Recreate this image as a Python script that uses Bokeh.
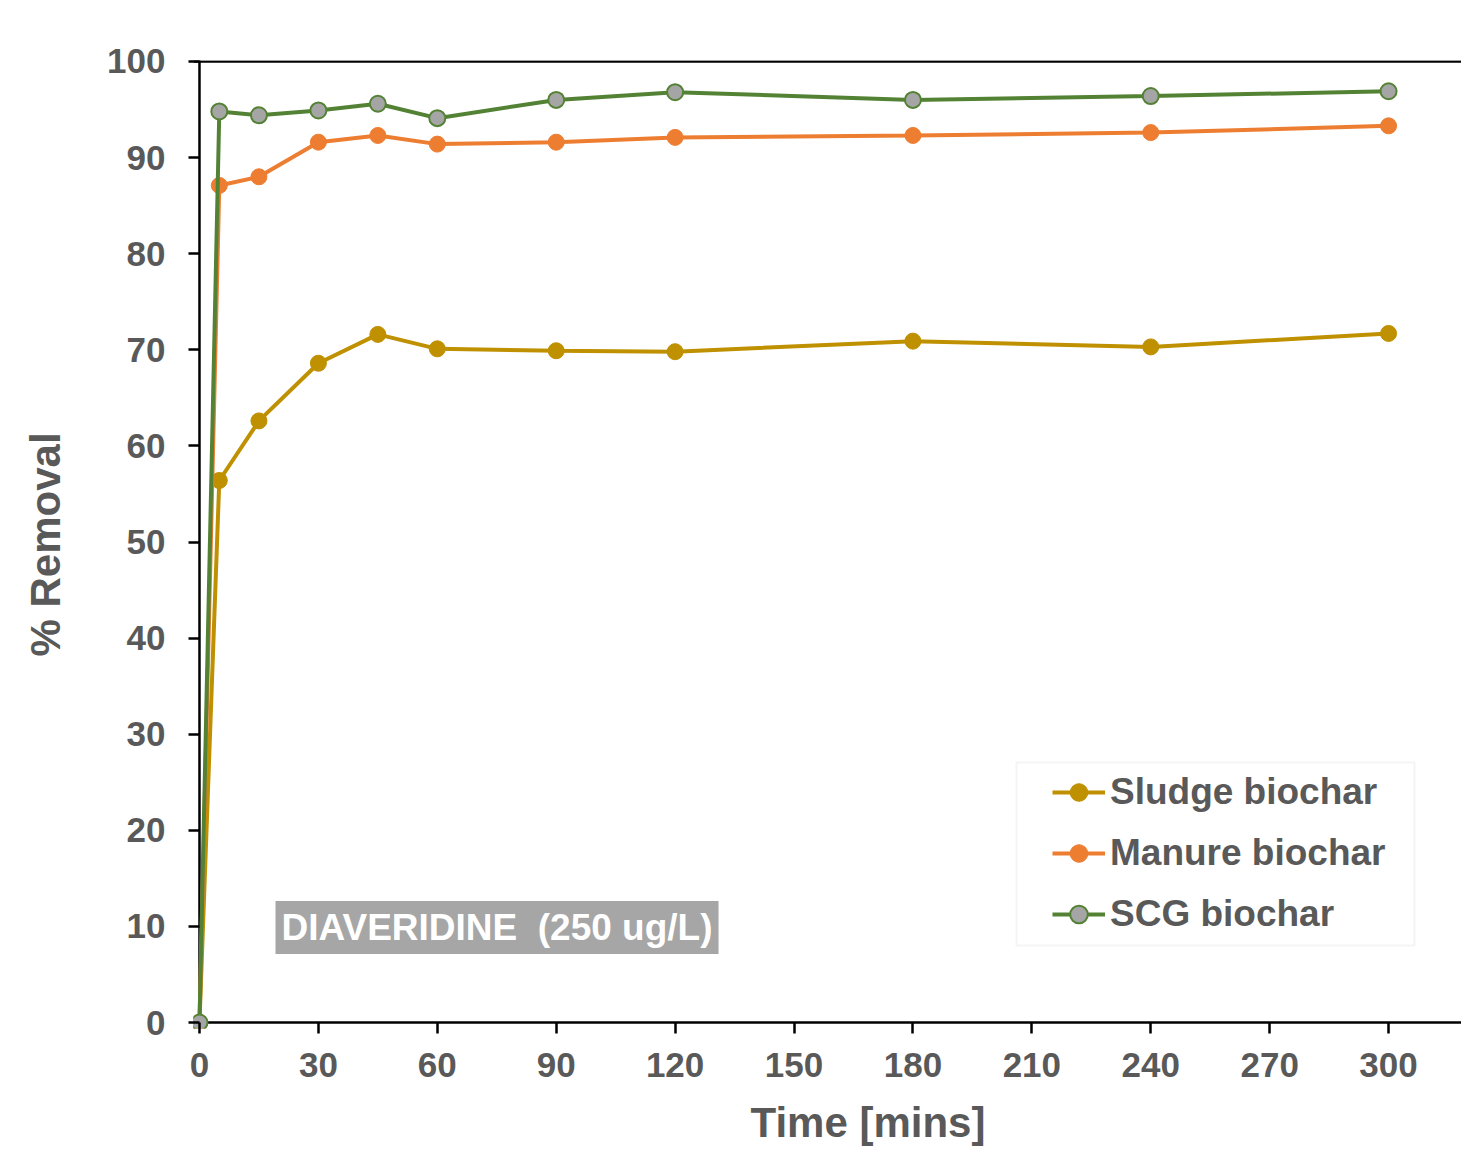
from bokeh.plotting import figure
from bokeh.models import (Span, Label, Legend, LegendItem, BoxAnnotation,
                          FixedTicker, Range1d, Title)
from bokeh.embed import file_html
from bokeh.resources import INLINE

# ---- data ----
time_min = [0, 5, 15, 30, 45, 60, 90, 120, 180, 240, 300]
sludge = [0, 56.4, 62.6, 68.6, 71.6, 70.1, 69.9, 69.8, 70.9, 70.3, 71.7]
manure = [0, 87.1, 88.0, 91.6, 92.3, 91.4, 91.6, 92.1, 92.3, 92.6, 93.3]
scg = [0, 94.8, 94.4, 94.9, 95.6, 94.1, 96.0, 96.8, 96.0, 96.4, 96.9]
series_names = ["Sludge biochar", "Manure biochar", "SCG biochar"]
x_ticks = list(range(0, 301, 30))
y_ticks = list(range(0, 101, 10))
annotation_text = "DIAVERIDINE\u00a0 (250 ug/L)"
x_title = "Time [mins]"
y_title = "% Removal"

FONT = "Liberation Sans"
GREY = "#595959"

p = figure(width=1461, height=1163, output_backend="svg", toolbar_location=None,
           x_range=Range1d(-1.51, 318.4), y_range=Range1d(-0.62, 100.1),
           min_border_left=193, min_border_right=0, min_border_top=60,
           min_border_bottom=135, background_fill_color="white")
p.outline_line_color = None
p.xgrid.visible = False
p.ygrid.visible = False

p.xaxis.ticker = FixedTicker(ticks=x_ticks)
p.yaxis.ticker = FixedTicker(ticks=y_ticks)
for ax in (p.xaxis[0], p.yaxis[0]):
    ax.axis_line_color = None
    ax.major_tick_line_color = "black"
    ax.major_tick_line_width = 2.5
    ax.major_tick_in = 6
    ax.major_tick_out = 5
    ax.minor_tick_line_color = None
    ax.major_label_text_font = FONT
    ax.major_label_text_font_style = "bold"
    ax.major_label_text_font_size = "35px"
    ax.major_label_text_color = GREY
p.xaxis.major_label_standoff = 19
p.yaxis.major_label_standoff = 23
p.yaxis.axis_label = y_title
p.yaxis.axis_label_text_font = FONT
p.yaxis.axis_label_text_font_style = "bold"
p.yaxis.axis_label_text_font_size = "42px"
p.yaxis.axis_label_text_color = GREY
p.yaxis.axis_label_standoff = 35

xt = Title(text=x_title, align="left", offset=557, text_font=FONT,
           text_font_size="42px", text_font_style="bold", text_color=GREY,
           standoff=35)
p.add_layout(xt, "below")

# axis lines drawn at data zero, plus top border
p.add_layout(Span(location=0, dimension="width", line_color="black",
                  line_width=2.5, level="underlay"))
p.add_layout(Span(location=0, dimension="height", line_color="black",
                  line_width=2.5, level="underlay"))
p.add_layout(Span(location=100, dimension="width", line_color="black",
                  line_width=2.5, level="underlay"))

r1 = p.line(time_min, sludge, line_color="#BF9000", line_width=4)
s1 = p.scatter(time_min, sludge, size=16, fill_color="#BF9000", line_color="#BF9000")
r2 = p.line(time_min, manure, line_color="#ED7D31", line_width=4)
s2 = p.scatter(time_min, manure, size=16, fill_color="#ED7D31", line_color="#ED7D31")
r3 = p.line(time_min, scg, line_color="#548235", line_width=4)
s3 = p.scatter(time_min, scg, size=16, fill_color="#A5A5A5", line_color="#548235",
               line_width=2)

box = BoxAnnotation(left=823, right=1221, bottom=83, top=266,
                    left_units="screen", right_units="screen",
                    bottom_units="screen", top_units="screen",
                    fill_color="white", fill_alpha=1.0,
                    line_color="#D9D9D9", line_width=2)
p.add_layout(box)

legend = Legend(items=[LegendItem(label=series_names[0], renderers=[r1, s1]),
                       LegendItem(label=series_names[1], renderers=[r2, s2]),
                       LegendItem(label=series_names[2], renderers=[r3, s3])],
                location=(859, 92), padding=0, margin=0, spacing=17,
                glyph_width=53, glyph_height=44, label_height=44,
                label_standoff=5, border_line_color=None,
                background_fill_alpha=0, label_text_font=FONT,
                label_text_font_size="37px", label_text_font_style="bold",
                label_text_color=GREY)
p.add_layout(legend)

lab = Label(x=82, y=101, x_units="screen", y_units="screen", text=annotation_text,
            text_color="white", text_font=FONT, text_font_size="37px",
            text_font_style="bold", text_baseline="middle", text_align="left",
            background_fill_color="#A6A6A6", padding=6)
p.add_layout(lab)

open("out.html", "w").write(file_html(p, INLINE))
